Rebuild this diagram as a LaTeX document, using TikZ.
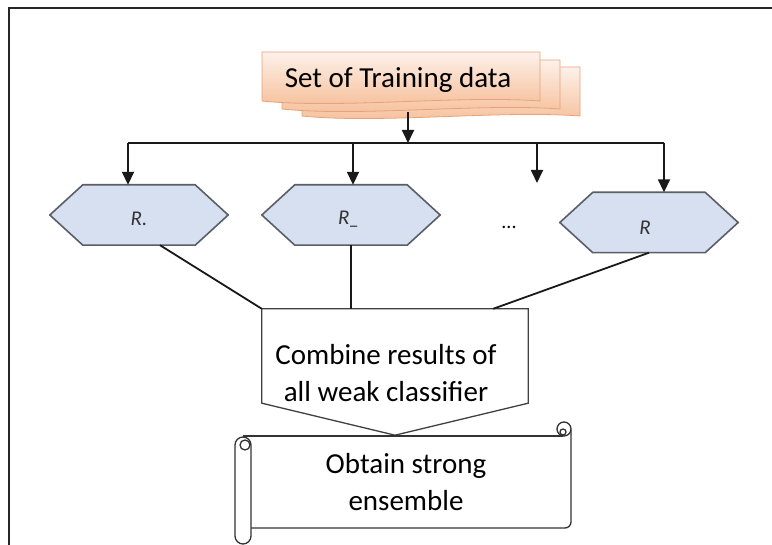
\documentclass[tikz,border=0pt]{standalone}
\usepackage{fontspec}
\setmainfont{Carlito}
\usetikzlibrary{arrows.meta,backgrounds,calc}
\definecolor{hexfill}{HTML}{D7E0F0}
\definecolor{hexline}{HTML}{5A5E66}
\definecolor{doctop}{HTML}{FDF1EA}
\definecolor{docbot}{HTML}{F6BE98}
\definecolor{docline}{HTML}{E5A27C}
\begin{document}
\begin{tikzpicture}[x=1pt,y=-1pt,
  conn/.style={line width=1.8pt,draw=black!90},
  arr/.style={conn,-{Triangle[length=13pt,width=12pt]}},
  hexbox/.style={minimum width=178pt,minimum height=60pt,inner sep=0pt},
  hexshape/.style={fill=hexfill,draw=hexline,line width=1.6pt,line join=round},
  lbl/.style={font=\fontsize{29}{37}\selectfont,align=center,inner sep=0pt},
  rlbl/.style={font=\fontsize{21}{22}\selectfont\itshape,inner sep=0pt,text=black!80},
  docshape/.style={top color=doctop,bottom color=docbot,draw=docline,line width=0.8pt},
  combbox/.style={minimum width=266pt,minimum height=94pt,inner sep=0pt},
  combshape/.style={fill=white,draw=black!75,line width=1.3pt,line join=miter},
  scrollshape/.style={draw=black!80,line width=1.3pt}
]
\useasboundingbox (0,0) rectangle (772,545);
% frame
\draw[line width=1.6pt,draw=black!85] (9,545) -- (9,8) -- (772,8);

% multidocument
\foreach \dx/\dy in {40/15,20/8,0/0}{
  \path[docshape,shift={(\dx,\dy)}] (262,52) -- (540,52) -- (540,101)
     .. controls (460,95) and (340,109) .. (262,101) -- cycle;
}
\node[lbl] (doc) at (398,80) {Set of Training data};

% hexagons
\node[hexbox] (h1) at (139,215) {};
\node[hexbox] (h2) at (351,215) {};
\node[hexbox] (h3) at (649,222.5) {};
\begin{scope}[on background layer]
  \foreach \h in {h1,h2,h3}
    \draw[hexshape] (\h.west) -- ($(\h.north west)+(33,0)$) -- ($(\h.north east)+(-33,0)$)
      -- (\h.east) -- ($(\h.south east)+(-33,0)$) -- ($(\h.south west)+(33,0)$) -- cycle;
\end{scope}
\node[rlbl] (r1) at ($(h1)+(0,4)$) {R.};
\node[rlbl] (r2) at ($(h2)+(-2,4)$) {R\_};
\node[rlbl] (r3) at ($(h3)+(-4,5)$) {R};
\node[font=\fontsize{20}{22}\selectfont,inner sep=0pt] (dots) at (509,227) {...};

% combine box
\node[combbox] (comb) at (395,356) {};
\begin{scope}[on background layer]
  \draw[combshape] (comb.north west) -- (comb.north east) -- (comb.south east)
     -- ($(comb.south)+(0,32)$) -- (comb.south west) -- cycle;
\end{scope}
\node[lbl] (combt) at (386,373) {Combine results of\\all weak classifier};

% scroll
\draw[scrollshape,fill=white] (243,436) -- (563,436);
\draw[scrollshape,rounded corners=6pt] (571,430) -- (571,528) -- (251,528);
\draw[scrollshape,fill=white] (564,429) circle[radius=7];
\draw[scrollshape] (563,432) circle[radius=3];
\draw[scrollshape,fill=white,rounded corners=8pt] (235,437) rectangle (251,544);
\draw[scrollshape] (245,445) circle[radius=5];
\node[lbl] (scrollt) at (406,482) {Obtain strong\\ensemble};

% connectors
\coordinate (docout) at (408,112);
\coordinate (split) at (408,143);
\coordinate (bl) at (128,143);
\coordinate (b2) at (353,143);
\coordinate (b3) at (537,143);
\coordinate (br) at (664,143);
\coordinate (free) at (537,183);
\draw[arr] (docout) -- (split);
\draw[conn] (bl) -- (br);
\draw[arr] (bl) -- (bl |- h1.north);
\draw[arr] (b2) -- (b2 |- h2.north);
\draw[arr] (b3) -- (free);
\draw[arr] (br) -- (br |- h3.north);
\draw[conn] ($(h1.south)+(21,0)$) -- (comb.north west);
\draw[conn] (h2.south) -- (h2.south |- comb.north);
\draw[conn] (h3.south) -- ($(comb.north east)+(-35,0)$);
\end{tikzpicture}
\end{document}
